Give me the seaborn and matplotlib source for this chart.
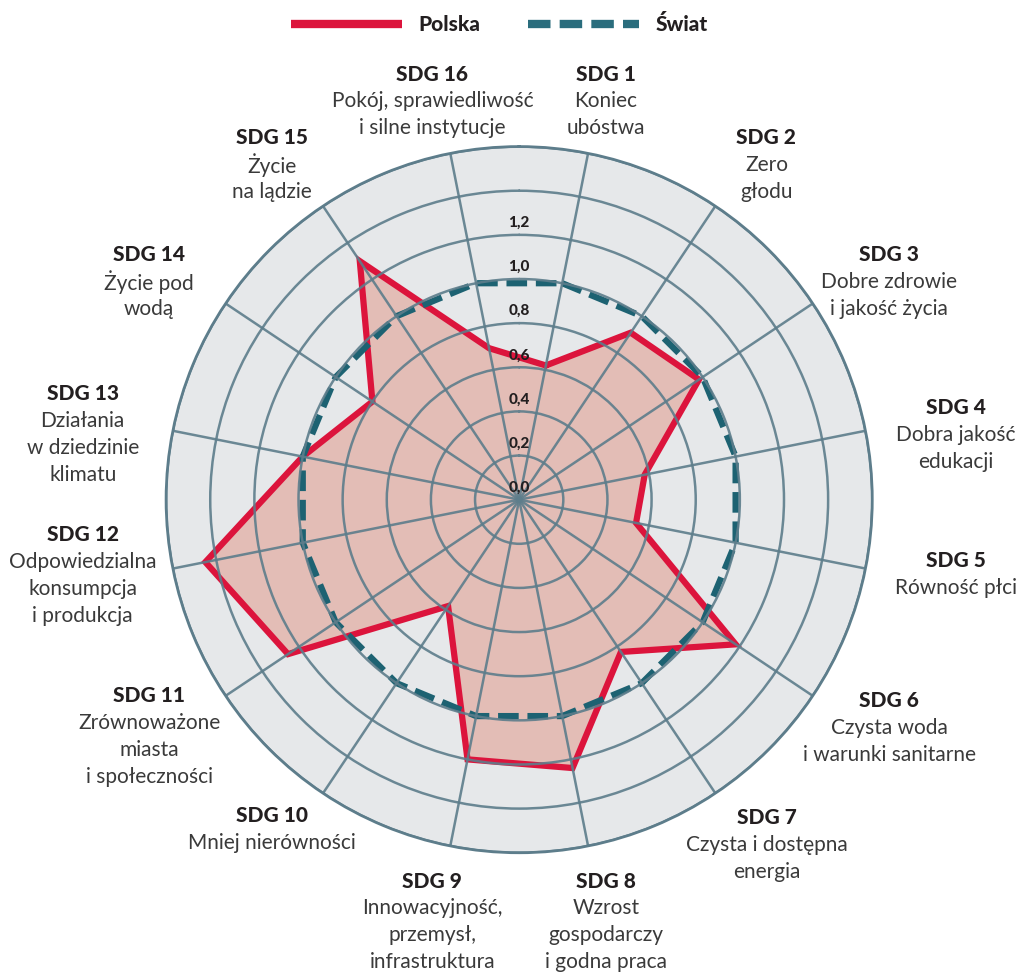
import numpy as np
import pandas as pd
import matplotlib
matplotlib.use("Agg")
import matplotlib.pyplot as plt
from matplotlib.lines import Line2D
import seaborn as sns

# data
goals = ["SDG 1", "SDG 2", "SDG 3", "SDG 4", "SDG 5", "SDG 6", "SDG 7", "SDG 8",
         "SDG 9", "SDG 10", "SDG 11", "SDG 12", "SDG 13", "SDG 14", "SDG 15", "SDG 16"]
goal_names = ["Koniec\nubóstwa", "Zero\ngłodu", "Dobre zdrowie\ni jakość życia",
              "Dobra jakość\nedukacji", "Równość płci", "Czysta woda\ni warunki sanitarne",
              "Czysta i dostępna\nenergia", "Wzrost\ngospodarczy\ni godna praca",
              "Innowacyjność,\nprzemysł,\ninfrastruktura", "Mniej nierówności",
              "Zrównoważone\nmiasta\ni społeczności", "Odpowiedzialna\nkonsumpcja\ni produkcja",
              "Działania\nw dziedzinie\nklimatu", "Życie pod\nwodą", "Życie\nna lądzie",
              "Pokój, sprawiedliwość\ni silne instytucje"]
polska = [0.62, 0.91, 0.98, 0.58, 0.54, 1.18, 0.83, 1.24,
          1.20, 0.58, 1.26, 1.45, 1.00, 0.80, 1.30, 0.70]
swiat = [1.0] * 16
r_ticks = [0.0, 0.2, 0.4, 0.6, 0.8, 1.0, 1.2]

RED = "#dc143c"
TEAL = "#1d6272"
GRID = "#5d7d8b"
DARK = "#231f20"

sns.set_theme(style="white")
plt.rcParams["font.family"] = ["Lato", "DejaVu Sans"]

W, H = 1019, 974
fig = plt.figure(figsize=(W / 100, H / 100), dpi=100)
ax = fig.add_axes([0.163, 0.1245, 0.693, 0.725], projection="polar")
ax.set_theta_zero_location("N")
ax.set_theta_direction(-1)
ax.set_facecolor("#e6e8ea")

angles = np.deg2rad(11.25 + 22.5 * np.arange(len(goals)))
df = pd.DataFrame({"theta": np.append(angles, angles[0] + 2 * np.pi),
                   "Polska": polska + polska[:1],
                   "Świat": swiat + swiat[:1]})

ax.fill(df["theta"], df["Polska"], color="#e3bdb6", zorder=1)
sns.lineplot(data=df, x="theta", y="Polska", sort=False, ax=ax, color=RED,
             linewidth=4.5, zorder=2, solid_joinstyle="miter")
sns.lineplot(data=df, x="theta", y="Świat", sort=False, ax=ax, color=TEAL,
             linewidth=4.5, linestyle=(0, (3.3, 1.4)), zorder=2.2)

ax.set_ylim(0, 1.6)
ax.set_yticks(np.arange(0.2, 1.61, 0.2))
ax.set_yticklabels([])
ax.set_xticks(angles)
ax.set_xticklabels([])
ax.set_xlabel("")
ax.set_ylabel("")
ax.set_axisbelow(False)
ax.grid(True, color=GRID, linewidth=1.8, alpha=0.9)
ax.spines["polar"].set_color(GRID)
ax.spines["polar"].set_linewidth(2)

for v in r_ticks:
    ax.annotate(f"{v:.1f}".replace(".", ","), xy=(0, v), xytext=(0, 3.5),
                textcoords="offset points", ha="center", va="bottom",
                fontsize=11, fontweight="black", color=DARK, zorder=5)

# outer labels around the chart (pixels); tall blocks pushed out at top/bottom
cx, cy = ax.transData.transform((0, 0))
pitch = 27
for i, ang in enumerate(angles):
    lines = [goals[i]] + goal_names[i].split("\n")
    h = pitch * len(lines) / 2
    s, c = np.sin(ang), np.cos(ang)
    bx = cx + 445 * s
    by = cy + 354 * c + np.sign(c) * h * 1.73 * max(abs(c) - 0.18, 0) - 5
    # keep the last line inside the figure
    low = by - (len(lines) - 1) / 2 * pitch
    if low < 12:
        by += 12 - low
    for k, txt in enumerate(lines):
        y = by + ((len(lines) - 1) / 2 - k) * pitch
        fig.text(bx / W, y / H, txt, ha="center", va="center", fontsize=15,
                 fontweight="black" if k == 0 else "normal",
                 color=DARK if k == 0 else "#3a3a3a")

handles = [Line2D([], [], color=RED, linewidth=6, solid_capstyle="butt"),
           Line2D([], [], color="#2a6d7d", linewidth=6, linestyle=(0, (2.7, 1.1)))]
fig.legend(handles, ["Polska", "Świat"], loc="center", bbox_to_anchor=(0.49, 0.975),
           ncol=2, frameon=False, handlelength=5.3, handletextpad=0.8,
           columnspacing=2.3, prop={"size": 15, "weight": "black"},
           labelcolor=DARK)

fig.savefig("out.png", dpi=100)
